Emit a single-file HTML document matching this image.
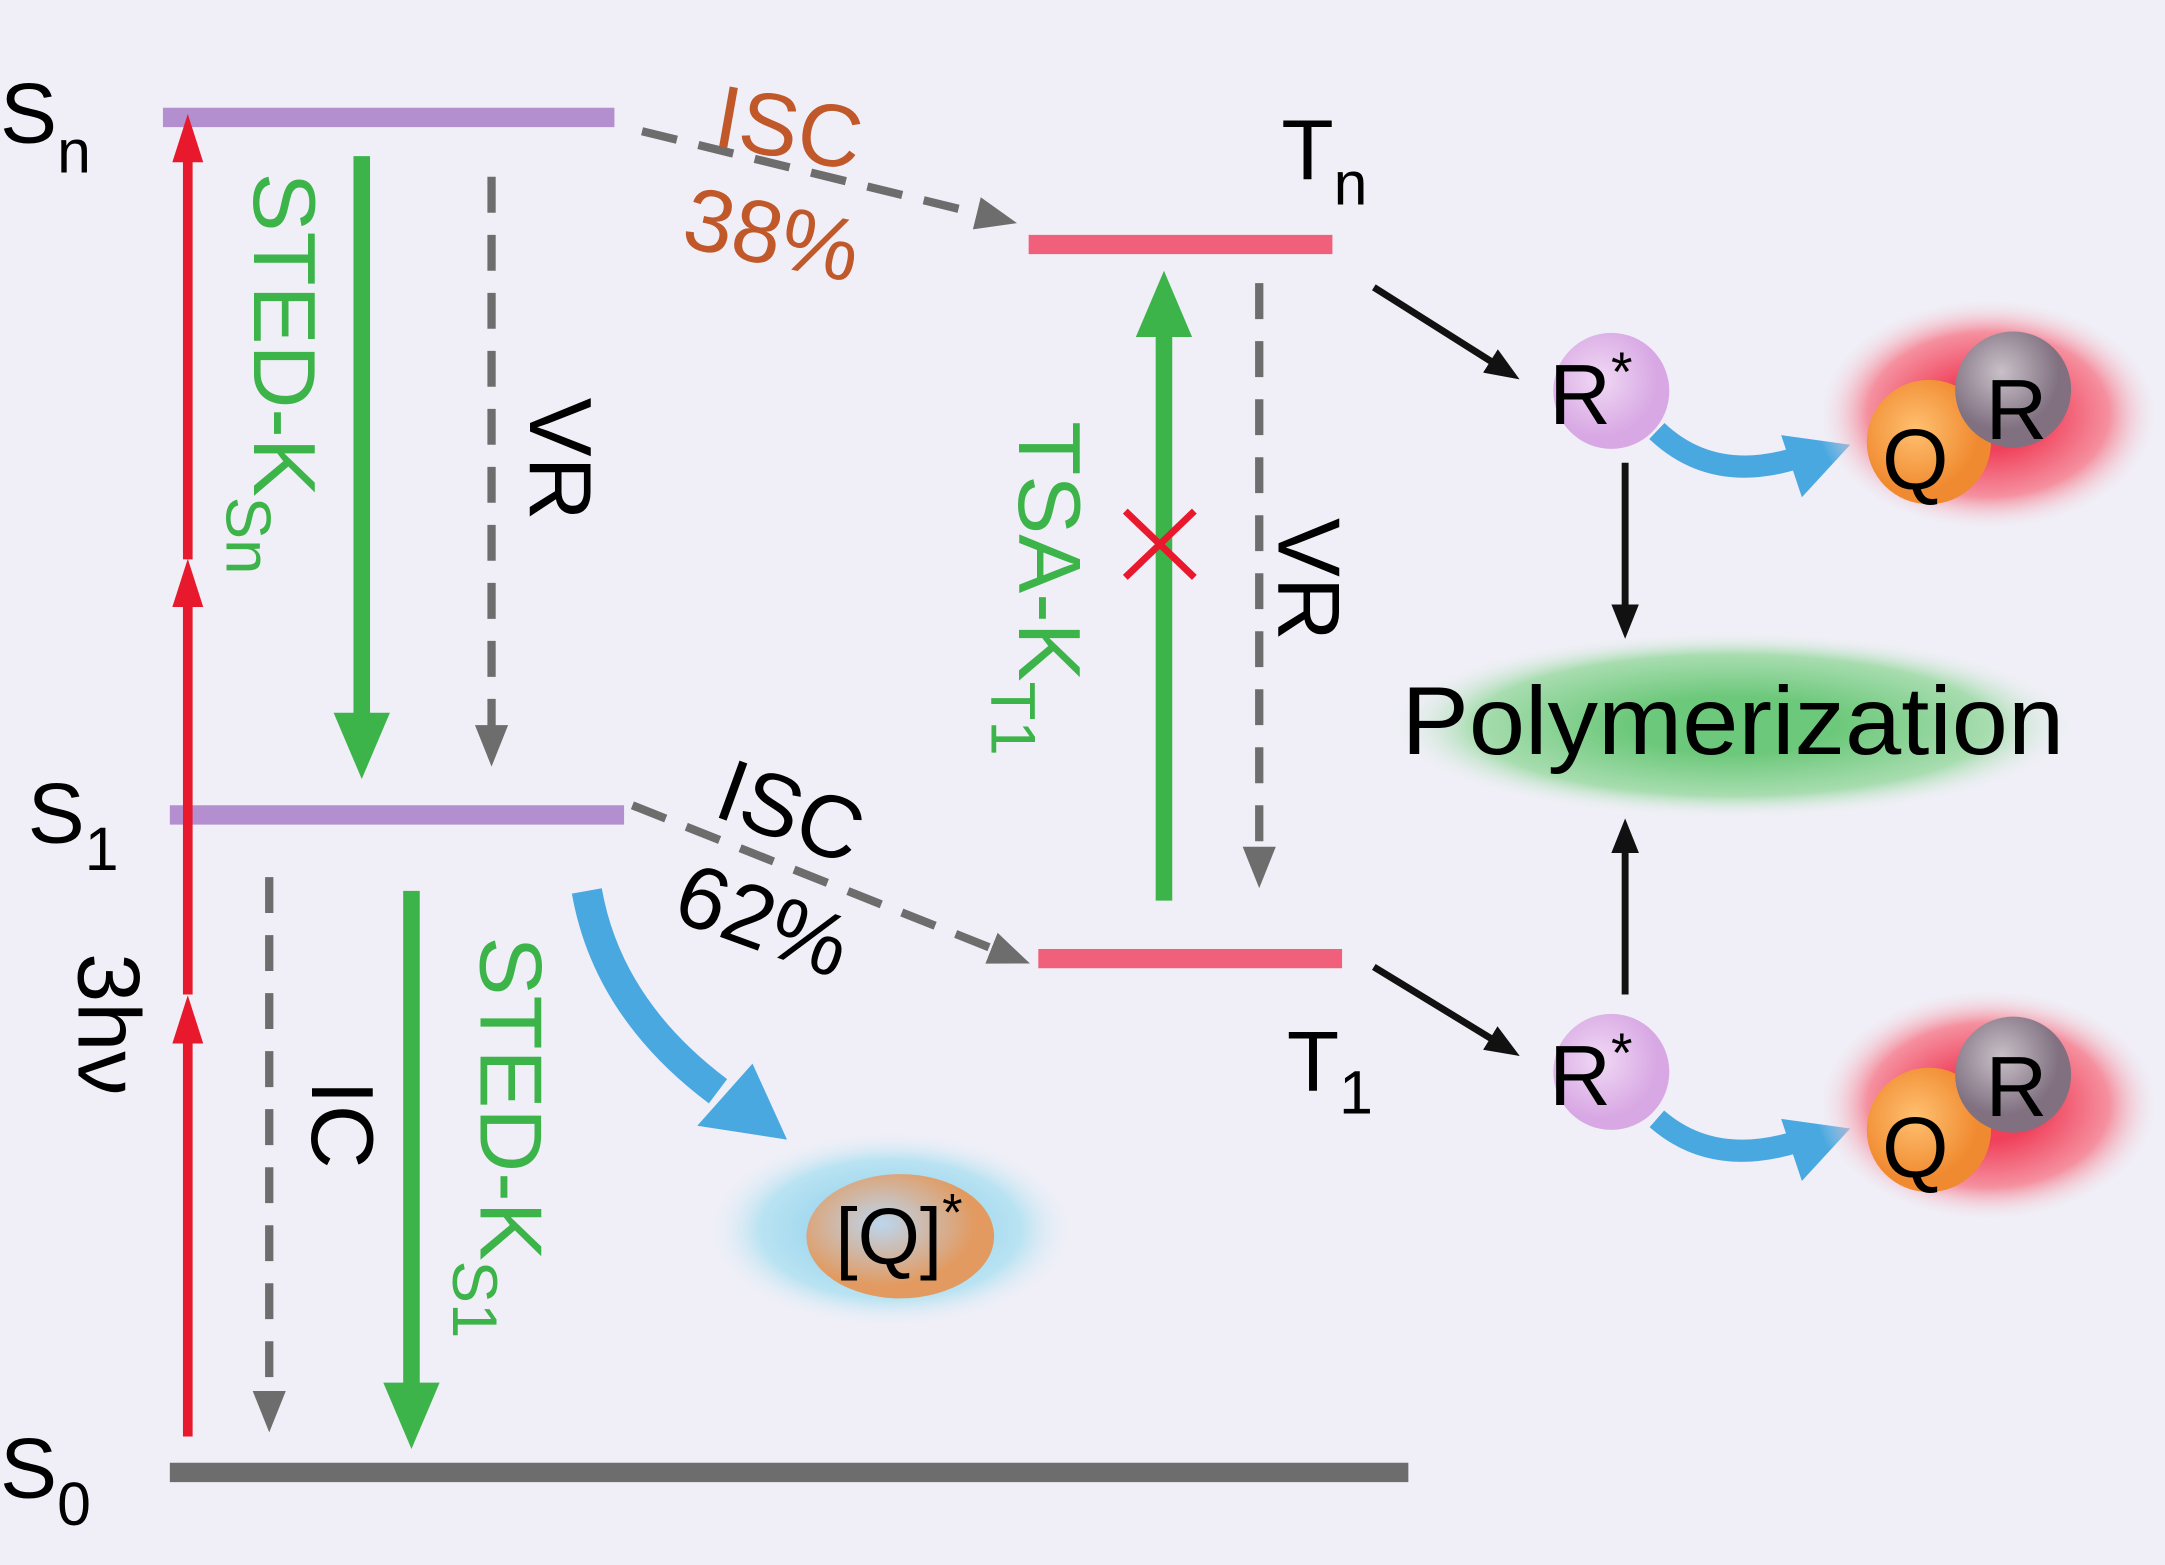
<!DOCTYPE html>
<html><head><meta charset="utf-8"><style>
html,body{margin:0;padding:0;background:#f0eff7;}
svg{display:block;}
text{font-family:"Liberation Sans",sans-serif;}
</style></head><body>
<svg width="2165" height="1565" viewBox="0 0 1568 1133" preserveAspectRatio="none" xmlns="http://www.w3.org/2000/svg">
<defs>
<marker id="ar" markerWidth="5" markerHeight="4" refX="2.5" refY="2" orient="auto" markerUnits="strokeWidth"><path d="M0,0.4L5,2L0,3.6z" fill="#e8192c"/></marker>
<marker id="ag" markerWidth="4" markerHeight="4" refX="2" refY="2" orient="auto" markerUnits="strokeWidth"><path d="M0,0.3L4,2L0,3.7z" fill="#3cb44a"/></marker>
<marker id="ad" markerWidth="5" markerHeight="5" refX="2.5" refY="2.5" orient="auto" markerUnits="strokeWidth"><path d="M0,0.5L5,2.5L0,4.5z" fill="#6d6d6d"/></marker>
<marker id="ak" markerWidth="5" markerHeight="5" refX="2.5" refY="2.5" orient="auto" markerUnits="strokeWidth"><path d="M0,0.5L5,2.5L0,4.5z" fill="#111"/></marker>
<radialGradient id="gb"><stop offset="0.3" stop-color="#9ad4ee"/><stop offset="0.7" stop-color="#b9e3f2"/><stop offset="1" stop-color="#f0eff7" stop-opacity="0"/></radialGradient>
<radialGradient id="gg"><stop offset="0.3" stop-color="#6cc87a"/><stop offset="0.75" stop-color="#a8ddb0"/><stop offset="1" stop-color="#f0eff7" stop-opacity="0"/></radialGradient>
<radialGradient id="gr"><stop offset="0.3" stop-color="#f0405a"/><stop offset="0.7" stop-color="#f5909f"/><stop offset="1" stop-color="#f0eff7" stop-opacity="0"/></radialGradient>
<radialGradient id="go" cx="0.4" cy="0.4"><stop offset="0" stop-color="#ffc070"/><stop offset="1" stop-color="#f08a30"/></radialGradient>
<radialGradient id="gq" cx="0.4" cy="0.4"><stop offset="0" stop-color="#bcd6ee"/><stop offset="1" stop-color="#e29a60"/></radialGradient>
<radialGradient id="gy" cx="0.4" cy="0.35"><stop offset="0" stop-color="#c8c0c8"/><stop offset="1" stop-color="#807080"/></radialGradient>
<radialGradient id="gp" cx="0.4" cy="0.4"><stop offset="0" stop-color="#f0d8f4"/><stop offset="1" stop-color="#d8a8e4"/></radialGradient>
</defs>
<line x1="118" y1="85" x2="445" y2="85" stroke="#b48fd0" stroke-width="14"/>
<line x1="123" y1="590" x2="452" y2="590" stroke="#b48fd0" stroke-width="14"/>
<line x1="123" y1="1066" x2="1020" y2="1066" stroke="#6d6d6d" stroke-width="14"/>
<line x1="745" y1="177" x2="965" y2="177" stroke="#f0607a" stroke-width="14"/>
<line x1="752" y1="694" x2="972" y2="694" stroke="#f0607a" stroke-width="14"/>
<text x="0" y="103" font-size="62">S<tspan font-size="44" dy="22">n</tspan></text>
<text x="20" y="610" font-size="62">S<tspan font-size="44" dy="20">1</tspan></text>
<text x="0" y="1084" font-size="62">S<tspan font-size="44" dy="20">0</tspan></text>
<text x="928" y="130" font-size="62">T<tspan font-size="44" dy="18">n</tspan></text>
<text x="932" y="790" font-size="62">T<tspan font-size="44" dy="16">1</tspan></text>
<line x1="136" y1="1040" x2="136" y2="738" stroke="#e8192c" stroke-width="7" marker-end="url(#ar)"/>
<line x1="136" y1="720" x2="136" y2="422" stroke="#e8192c" stroke-width="7" marker-end="url(#ar)"/>
<line x1="136" y1="405" x2="136" y2="100" stroke="#e8192c" stroke-width="7" marker-end="url(#ar)"/>
<text transform="translate(57,690) rotate(90)" font-size="64">3hν</text>
<line x1="262" y1="113" x2="262" y2="540" stroke="#3cb44a" stroke-width="12" marker-end="url(#ag)"/>
<text transform="translate(184,125) rotate(90)" font-size="64" fill="#3cb44a">STED-K<tspan font-size="46" dy="20">Sn</tspan></text>
<line x1="356" y1="128" x2="356" y2="540" stroke="#6d6d6d" stroke-width="6" stroke-dasharray="26,16" marker-end="url(#ad)"/>
<text transform="translate(384,288) rotate(90)" font-size="64">VR</text>
<line x1="465" y1="95" x2="722" y2="158" stroke="#6d6d6d" stroke-width="6" stroke-dasharray="26,16" marker-end="url(#ad)"/>
<text transform="translate(515,105) rotate(10)" font-size="64" fill="#c0582a">ISC</text>
<text transform="translate(492,178) rotate(12)" font-size="64" fill="#c0582a">38%</text>
<line x1="458" y1="583" x2="732" y2="692" stroke="#6d6d6d" stroke-width="6" stroke-dasharray="26,16" marker-end="url(#ad)"/>
<text transform="translate(515,590) rotate(20)" font-size="64">ISC</text>
<text transform="translate(485,665) rotate(20)" font-size="64">62%</text>
<line x1="843" y1="652" x2="843" y2="220" stroke="#3cb44a" stroke-width="12" marker-end="url(#ag)"/>
<text transform="translate(738,305) rotate(90)" font-size="64" fill="#3cb44a">TSA-K<tspan font-size="46" dy="20">T1</tspan></text>
<path d="M815,370L865,418M865,370L815,418" stroke="#e8192c" stroke-width="5"/>
<line x1="912" y1="205" x2="912" y2="628" stroke="#6d6d6d" stroke-width="6" stroke-dasharray="26,16" marker-end="url(#ad)"/>
<text transform="translate(926,375) rotate(90)" font-size="64">VR</text>
<line x1="195" y1="635" x2="195" y2="1022" stroke="#6d6d6d" stroke-width="6" stroke-dasharray="26,16" marker-end="url(#ad)"/>
<text transform="translate(226,782) rotate(90)" font-size="64">IC</text>
<line x1="298" y1="645" x2="298" y2="1025" stroke="#3cb44a" stroke-width="12" marker-end="url(#ag)"/>
<text transform="translate(348,678) rotate(90)" font-size="64" fill="#3cb44a">STED-K<tspan font-size="46" dy="20">S1</tspan></text>
<path d="M425,645 Q440,730 520,790" stroke="#4aa8e0" stroke-width="22" fill="none"/>
<path d="M505,815 L570,825 L545,770 Z" fill="#4aa8e0"/>
<ellipse cx="645" cy="890" rx="135" ry="72" fill="url(#gb)"/>
<ellipse cx="652" cy="895" rx="68" ry="45" fill="url(#gq)"/>
<text x="605" y="915" font-size="58">[Q]<tspan font-size="38" dy="-24">*</tspan></text>
<line x1="995" y1="208" x2="1090" y2="268" stroke="#111" stroke-width="5" marker-end="url(#ak)"/>
<line x1="995" y1="700" x2="1090" y2="758" stroke="#111" stroke-width="5" marker-end="url(#ak)"/>
<line x1="1177" y1="335" x2="1177" y2="450" stroke="#111" stroke-width="5" marker-end="url(#ak)"/>
<line x1="1177" y1="720" x2="1177" y2="605" stroke="#111" stroke-width="5" marker-end="url(#ak)"/>
<ellipse cx="1255" cy="525" rx="250" ry="68" fill="url(#gg)"/>
<text x="1255" y="546" font-size="70" text-anchor="middle" textLength="480" lengthAdjust="spacingAndGlyphs">Polymerization</text>
<circle cx="1167" cy="283" r="42" fill="url(#gp)"/>
<text x="1122" y="307" font-size="62">R<tspan font-size="40" dy="-24">*</tspan></text>
<circle cx="1167" cy="776" r="42" fill="url(#gp)"/>
<text x="1122" y="800" font-size="62">R<tspan font-size="40" dy="-24">*</tspan></text>
<path d="M1200,312 Q1240,350 1300,332" stroke="#4aa8e0" stroke-width="16" fill="none"/>
<path d="M1290,315 L1340,322 L1305,360 Z" fill="#4aa8e0"/>
<path d="M1200,810 Q1240,845 1300,827" stroke="#4aa8e0" stroke-width="16" fill="none"/>
<path d="M1290,810 L1340,817 L1305,855 Z" fill="#4aa8e0"/>
<ellipse cx="1440" cy="300" rx="125" ry="85" fill="url(#gr)"/>
<circle cx="1397" cy="320" r="45" fill="url(#go)"/>
<circle cx="1458" cy="282" r="42" fill="url(#gy)"/>
<text x="1363" y="354" font-size="62">Q</text>
<text x="1438" y="318" font-size="62">R</text>
<ellipse cx="1440" cy="800" rx="125" ry="85" fill="url(#gr)"/>
<circle cx="1397" cy="818" r="45" fill="url(#go)"/>
<circle cx="1458" cy="778" r="42" fill="url(#gy)"/>
<text x="1363" y="852" font-size="62">Q</text>
<text x="1438" y="808" font-size="62">R</text>
</svg>
</body></html>
